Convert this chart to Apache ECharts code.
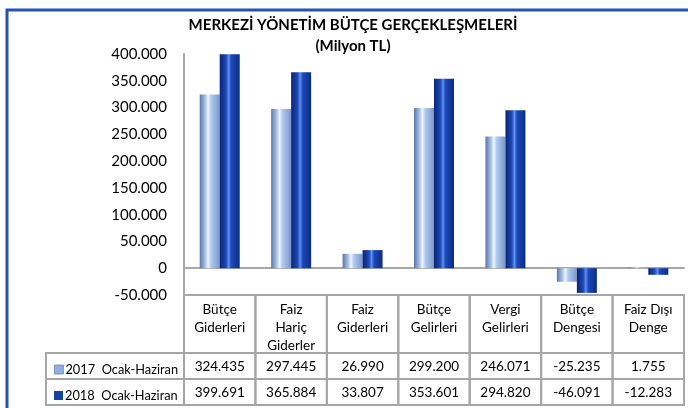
<!DOCTYPE html>
<html>
<head>
<meta charset="utf-8">
<script src="https://cdn.jsdelivr.net/npm/echarts@6/dist/echarts.min.js"></script>
<style>
html,body{margin:0;padding:0;background:#fff;}
#c{width:688px;height:408px;}
</style>
</head>
<body>
<div id="c"></div>
<script>
var categories = ['Bütçe\nGiderleri', 'Faiz\nHariç\nGiderler', 'Faiz\nGiderleri', 'Bütçe\nGelirleri', 'Vergi\nGelirleri', 'Bütçe\nDengesi', 'Faiz Dışı\nDenge'];
var seriesNames = ['2017  Ocak-Haziran', '2018  Ocak-Haziran'];
var values2017 = [324435, 297445, 26990, 299200, 246071, -25235, 1755];
var values2018 = [399691, 365884, 33807, 353601, 294820, -46091, -12283];
var yMin = -50000, yMax = 400000, yStep = 50000;
var titleText = 'MERKEZİ YÖNETİM BÜTÇE GERÇEKLEŞMELERİ\n(Milyon TL)';

var FONT = 'Lato, Carlito, Calibri, "Open Sans", sans-serif';

function fmt(v) {
  var neg = v < 0;
  var s = String(Math.abs(Math.round(v)));
  s = s.replace(/\B(?=(\d{3})+(?!\d))/g, '.');
  return (neg ? '-' : '') + s;
}

var c2017 = new echarts.graphic.LinearGradient(0, 0, 1, 0, [
  {offset: 0, color: '#5c77a6'},
  {offset: 0.28, color: '#a9c3e8'},
  {offset: 0.42, color: '#eef5ff'},
  {offset: 0.56, color: '#b1cbee'},
  {offset: 1, color: '#7898cc'}
]);
var c2018 = new echarts.graphic.LinearGradient(0, 0, 1, 0, [
  {offset: 0, color: '#0a2470'},
  {offset: 0.32, color: '#1c48b8'},
  {offset: 0.45, color: '#5f8ff0'},
  {offset: 0.58, color: '#1c48b8'},
  {offset: 1, color: '#0b2c88'}
]);
var swatchColors = ['#8fb0de', '#1442a8'];

var LINE = '#a6a6a6';
var rowValues = [values2017, values2018];

function legendFor(idx, top) {
  return {
    left: 49,
    top: top,
    itemWidth: 9,
    itemHeight: 9,
    itemGap: 0,
    icon: 'rect',
    selectedMode: false,
    data: [{name: seriesNames[idx], itemStyle: {color: swatchColors[idx], borderColor: '#6a86b8', borderWidth: idx === 0 ? 0.8 : 0}}],
    textStyle: {fontFamily: FONT, fontSize: 12.8, color: '#000', padding: [0, 0, 0, -3]}
  };
}

var chart = echarts.init(document.getElementById('c'), null, {renderer: 'canvas'});
chart.setOption({
  backgroundColor: '#fff',
  animation: false,
  title: {
    text: titleText,
    left: 348,
    top: 10,
    textAlign: 'center',
    textStyle: {fontFamily: FONT, fontSize: 15, fontWeight: 'bold', color: '#000', lineHeight: 21}
  },
  graphic: [{
    type: 'rect',
    shape: {x: 7, y: 10, width: 720, height: 440},
    style: {fill: 'none', stroke: '#2453b5', lineWidth: 3},
    silent: true
  }],
  legend: [legendFor(0, 358), legendFor(1, 384)],
  grid: {left: 184, right: 4, top: 54, bottom: 113, containLabel: false},
  xAxis: {
    type: 'category',
    data: categories,
    axisLine: {onZero: true, lineStyle: {color: '#a8a8a8', width: 2}},
    axisTick: {show: false},
    axisLabel: {show: false},
    splitLine: {show: false}
  },
  yAxis: {
    type: 'value',
    min: yMin,
    max: yMax,
    interval: yStep,
    axisLine: {show: true, lineStyle: {color: '#a8a8a8', width: 2}},
    axisTick: {show: false},
    splitLine: {show: false},
    axisLabel: {
      margin: 17,
      fontFamily: FONT,
      fontSize: 15,
      color: '#000',
      formatter: function (v) { return fmt(v); }
    }
  },
  series: [
    {
      name: seriesNames[0],
      type: 'bar',
      data: values2017,
      barWidth: 20,
      barGap: '0%',
      itemStyle: {color: c2017}
    },
    {
      name: seriesNames[1],
      type: 'bar',
      data: values2018,
      barWidth: 20,
      barGap: '0%',
      itemStyle: {color: c2018}
    },
    {
      type: 'custom',
      coordinateSystem: 'cartesian2d',
      silent: true,
      clip: false,
      z: 1,
      data: categories.map(function (c, i) { return [i, 0]; }),
      encode: {x: 0, y: 1},
      renderItem: function (params, api) {
        var i = api.value(0);
        var cx = api.coord([i, 0])[0];
        var w = api.size([1, 0])[0];
        var cs = params.coordSys;
        var top = cs.y + cs.height;
        var x0 = cx - w / 2;
        var rows = [{y: top, h: 58}, {y: top + 58, h: 26}, {y: top + 84, h: 26}];
        var children = [];
        rows.forEach(function (r) {
          children.push({type: 'rect', shape: {x: x0, y: r.y, width: w, height: r.h},
            style: {fill: 'none', stroke: LINE, lineWidth: 2}});
        });
        children.push({type: 'text', style: {
          text: categories[i], x: cx, y: top + 6, align: 'center', verticalAlign: 'top',
          fontFamily: FONT, fontSize: 13.5, lineHeight: 18, fill: '#000'}});
        for (var k = 0; k < 2; k++) {
          children.push({type: 'text', style: {
            text: fmt(rowValues[k][i]), x: cx, y: rows[k + 1].y + rows[k + 1].h / 2 + 1,
            align: 'center', verticalAlign: 'middle',
            fontFamily: FONT, fontSize: 13.5, fill: '#000'}});
        }
        if (i === 0) {
          var lx = 46;
          for (var k2 = 1; k2 < 3; k2++) {
            children.push({type: 'rect', shape: {x: lx, y: rows[k2].y, width: cs.x - lx, height: rows[k2].h},
              style: {fill: 'none', stroke: LINE, lineWidth: 2}});
          }
        }
        return {type: 'group', children: children};
      }
    }
  ]
});
</script>
</body>
</html>
